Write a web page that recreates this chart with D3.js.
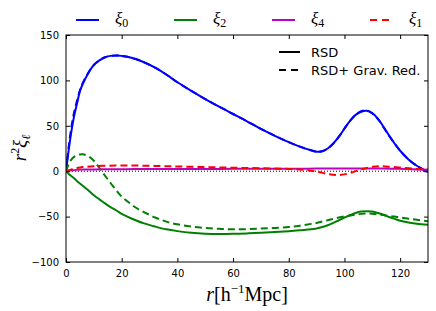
<!DOCTYPE html>
<meta charset="utf-8">
<script src="https://d3js.org/d3.v7.min.js"></script>
<style>
  body { margin: 0; background: #fff; }
  text { font-family: "DejaVu Sans", sans-serif; }
  .math { font-family: "Liberation Serif", "DejaVu Serif", serif; }
</style>
<svg width="436" height="311"></svg>
<script>

// shared r grid for the monopole / quadrupole curves
const r = [0,1,2,3,4,5,6,8,10,12,14,16,18,20,22,25,28,32,36,40,45,50,55,60,65,70,75,80,84,88,90,92,94,96,98,100,102,104,106,108,110,112,114,116,118,120,123,126,130];

const xi0 = [0,24,45,62,75,88,96,108,117,122,125.5,127,127.5,127,126,123.5,120,114,106.5,98,88.5,79.5,71,63,55,46.5,39,32,27,23,21.5,22,25,30.5,38,47,55.5,62,65.5,66.5,64,58,49,39.5,30.5,22.5,13,6,-1];
const xi0Grav = [0,28,50,66,78,89,97,108.5,117,122,125.5,127,127.5,127,126,123.5,120,114,106.5,98,88.5,79.5,71,63,55,46.5,39,32,27,23,21.5,22,25,30.5,38,47,55.5,62,66,67,63.5,57.5,48.5,39,30.5,22.5,13,6,-1];
const xi2 = [0,-3,-5.5,-8,-11,-13.5,-16,-21,-26.5,-31,-35.5,-39.5,-43,-47,-50,-54,-57.5,-61,-64,-66,-67.8,-68.8,-69.2,-69,-68.5,-67.8,-67,-66,-65,-64,-63,-61.5,-59.5,-57,-54,-51,-48.5,-46,-44.5,-44,-44.5,-46,-48,-50.5,-52.5,-54.5,-56.5,-58,-59];
const xi2Grav = [0,8,13,16,17.5,18.5,18.7,16.5,11.5,3.5,-5,-13,-21,-28,-33,-40,-45,-51,-55.5,-58.5,-61,-62.5,-63.5,-64,-63.8,-63.2,-62.5,-61.5,-60,-58,-57,-55.5,-54,-52.5,-51,-49.8,-48.8,-47.8,-47,-46.6,-46.8,-47.5,-48.3,-49.2,-50,-51,-52.3,-53.5,-55];

// sparser grid for the small multipoles
const rSmall = [0,2,4,6,10,15,20,25,30,35,40,50,60,70,80,85,90,94,97,100,103,106,110,113,117,122,126,130];
const xi4 = [0,1,1.5,1.8,2,2.1,2.2,2.3,2.3,2.4,2.4,2.5,2.6,2.7,2.8,2.8,2.9,2.9,3,3,3,3,3,2.9,2.7,2.4,2,1.5];
const xi1Grav = [0,2,3.5,4.5,5.5,6,6.2,6.2,6,5.6,5.2,4.5,3.8,3.2,2.5,1.5,-0.5,-3,-4.2,-3.5,-1,2,4.8,5.5,4.8,3.5,2.5,1.8];

const xTicks = [0,20,40,60,80,100,120];
const yTicks = [-100,-50,0,50,100,150];

var margin = {top: 35, right: 8, bottom: 49, left: 66},
    width = 436 - margin.left - margin.right,
    height = 311 - margin.top - margin.bottom;

var svg = d3.select("svg");
var g = svg.append("g")
    .attr("transform", "translate(" + margin.left + "," + margin.top + ")");

var x = d3.scaleLinear().domain([0, 130]).range([0, width]);
var y = d3.scaleLinear().domain([-100, 150]).range([height, 0]);

g.append("clipPath").attr("id", "clip")
  .append("rect").attr("width", width).attr("height", height);

var plot = g.append("g").attr("clip-path", "url(#clip)");

var line = d3.line()
    .x(function (d) { return x(d[0]); })
    .y(function (d) { return y(d[1]); })
    .curve(d3.curveCatmullRom);

function draw(rs, vals, color, dash) {
  plot.append("path")
    .datum(rs.map(function (v, i) { return [v, vals[i]]; }))
    .attr("d", line)
    .attr("fill", "none")
    .attr("stroke", color)
    .attr("stroke-width", 2)
    .attr("stroke-dasharray", dash);
}

// zero line
plot.append("line")
  .attr("x1", 0).attr("x2", width)
  .attr("y1", y(0)).attr("y2", y(0))
  .attr("stroke", "#000").attr("stroke-width", 1)
  .attr("stroke-dasharray", "1,2");

draw(r, xi0Grav, "#0000ff", "7,4");
draw(r, xi0, "#0000ff", null);
draw(r, xi2Grav, "#008000", "7,4");
draw(r, xi2, "#008000", null);
draw(rSmall, xi4, "#bf00bf", null);
draw(rSmall, xi1Grav, "#ff0000", "7,4");

// axes with inward ticks on all four sides
g.append("g")
  .attr("transform", "translate(0," + height + ")")
  .call(d3.axisBottom(x).tickValues(xTicks).tickSizeInner(-4).tickSizeOuter(0).tickPadding(8));
g.append("g")
  .call(d3.axisTop(x).tickValues(xTicks).tickSizeInner(-4).tickSizeOuter(0).tickFormat(""));
g.append("g")
  .call(d3.axisLeft(y).tickValues(yTicks).tickSizeInner(-4).tickSizeOuter(0).tickPadding(7));
g.append("g")
  .attr("transform", "translate(" + width + ",0)")
  .call(d3.axisRight(y).tickValues(yTicks).tickSizeInner(-4).tickSizeOuter(0).tickFormat(""));

g.selectAll(".tick text").attr("font-size", 10).attr("font-family", "DejaVu Sans").attr("fill", "#000");
g.selectAll(".domain").remove();
g.append("rect")
  .attr("width", width).attr("height", height)
  .attr("fill", "none").attr("stroke", "#000").attr("stroke-width", 1);

// axis labels
var xl = svg.append("text").attr("class", "math")
  .attr("x", 247).attr("y", 301).attr("text-anchor", "middle").attr("font-size", 20);
xl.append("tspan").attr("font-style", "italic").text("r");
xl.append("tspan").text("[h");
xl.append("tspan").attr("dy", -8).attr("font-size", 13).text("−1");
xl.append("tspan").attr("dy", 8).text("Mpc]");

var yl = svg.append("text").attr("class", "math")
  .attr("transform", "translate(26,148) rotate(-90)")
  .attr("text-anchor", "middle").attr("font-size", 19);
yl.append("tspan").attr("font-style", "italic").text("r");
yl.append("tspan").attr("dy", -7).attr("font-size", 12).text("2");
yl.append("tspan").attr("dy", 7).attr("font-style", "italic").text("ξ");
yl.append("tspan").attr("dy", 4).attr("font-size", 12).attr("font-style", "italic").text("ℓ");

// top legend
const legNames = ["0", "2", "4", "1"];
const legColors = ["#0000ff", "#008000", "#bf00bf", "#ff0000"];
const legX = [76, 174, 272, 370];
legNames.forEach(function (n, i) {
  svg.append("line")
    .attr("x1", legX[i]).attr("x2", legX[i] + 23)
    .attr("y1", 20).attr("y2", 20)
    .attr("stroke", legColors[i]).attr("stroke-width", 2)
    .attr("stroke-dasharray", i == 3 ? "7,5" : null);
  var t = svg.append("text").attr("class", "math")
    .attr("x", legX[i] + 39).attr("y", 24).attr("font-size", 17);
  t.append("tspan").attr("font-style", "italic").text("ξ");
  t.append("tspan").attr("dy", 3).attr("font-size", 12).text(n);
});

// inner legend
const styleNames = ["RSD", "RSD+ Grav. Red."];
styleNames.forEach(function (s, i) {
  var yy = 52 + i * 18;
  svg.append("line")
    .attr("x1", 279).attr("x2", 300)
    .attr("y1", yy).attr("y2", yy)
    .attr("stroke", "#000").attr("stroke-width", 2)
    .attr("stroke-dasharray", i == 1 ? "7,5" : null);
  svg.append("text")
    .attr("x", 311).attr("y", yy + 4.5).attr("font-size", 13).text(s);
});

</script>
